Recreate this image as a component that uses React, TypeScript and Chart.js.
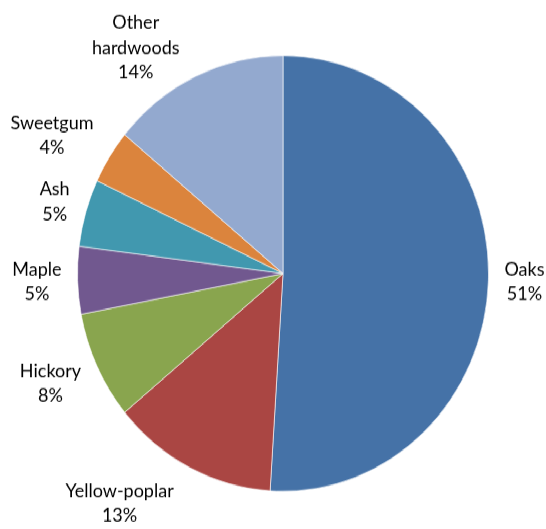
import React, { useEffect, useRef } from "react";
import { Chart, registerables } from "chart.js";

Chart.register(...registerables);

// ---- data ----
const categories = ["Oaks", "Yellow-poplar", "Hickory", "Maple", "Ash", "Sweetgum", "Other hardwoods"];
const labelLines = [["Oaks"], ["Yellow-poplar"], ["Hickory"], ["Maple"], ["Ash"], ["Sweetgum"], ["Other", "hardwoods"]];
const shares = [51, 13, 8, 5, 5, 4, 14];
const sliceColors = ["#4572A7", "#AA4643", "#89A54E", "#71588F", "#4198AF", "#DB843D", "#93A9CF"];

// ---- layout ----
const W = 546;
const PAGE_H = 529;
const STRETCH = 1.06;
const H = Math.round(PAGE_H / STRETCH);
const FONT_SIZE = 18;
const LINE_H = 23.6;
const GAP_X = 16;
const GAP_Y = 14;
const MIN_TOP = 9.4;

const labelPlugin = {
  id: "outsideLabels",
  afterDatasetsDraw(chart: any) {
    const ctx = chart.ctx as CanvasRenderingContext2D;
    const meta = chart.getDatasetMeta(0);
    const data = chart.data.datasets[0].data as number[];
    const total = data.reduce((a, b) => a + b, 0);
    ctx.save();
    ctx.font = `${FONT_SIZE}px Lato`;
    ctx.fillStyle = "#000";
    ctx.textAlign = "center";
    ctx.textBaseline = "middle";
    meta.data.forEach((arc: any, i: number) => {
      const { x, y, startAngle, endAngle, outerRadius } = arc.getProps(
        ["x", "y", "startAngle", "endAngle", "outerRadius"],
        true
      );
      const mid = (startAngle + endAngle) / 2;
      const ux = Math.cos(mid);
      const uy = Math.sin(mid);
      const ax = x + ux * outerRadius;
      const ay = y + uy * outerRadius;
      const lines = [...labelLines[i], Math.round((data[i] / total) * 100) + "%"];
      const w = Math.max(...lines.map((l) => ctx.measureText(l).width));
      const h = lines.length * LINE_H;
      const cx = ax + Math.sign(ux) * (GAP_X + w / 2);
      let cy = ay + uy * (h / 2 + GAP_Y);
      if (cy - h / 2 < MIN_TOP) cy = MIN_TOP + h / 2;
      if (cy + h / 2 > chart.height) cy = chart.height - h / 2;
      lines.forEach((l, j) => ctx.fillText(l, cx, cy - h / 2 + LINE_H * (j + 0.5)));
    });
    ctx.restore();
  },
};

export default function App() {
  const ref = useRef<HTMLCanvasElement | null>(null);
  useEffect(() => {
    if (!ref.current) return;
    const chart = new Chart(ref.current, {
      type: "pie",
      data: {
        labels: categories,
        datasets: [
          {
            data: shares,
            backgroundColor: sliceColors,
            borderColor: "rgba(255,255,255,0.6)",
            borderWidth: 1,
          },
        ],
      },
      options: {
        responsive: false,
        animation: false,
        devicePixelRatio: 1,
        layout: { padding: { left: 77, right: 57, top: 52, bottom: H - 52 - 412 } },
        plugins: { legend: { display: false }, tooltip: { enabled: false } },
      },
      plugins: [labelPlugin],
    });
    return () => chart.destroy();
  }, []);
  return (
    <div
      style={{
        position: "fixed",
        top: 0,
        left: 0,
        width: W,
        height: H,
        transform: `scaleY(${PAGE_H / H})`,
        transformOrigin: "0 0",
        background: "#fff",
      }}
    >
      <canvas ref={ref} width={W} height={H} style={{ display: "block" }} />
    </div>
  );
}
